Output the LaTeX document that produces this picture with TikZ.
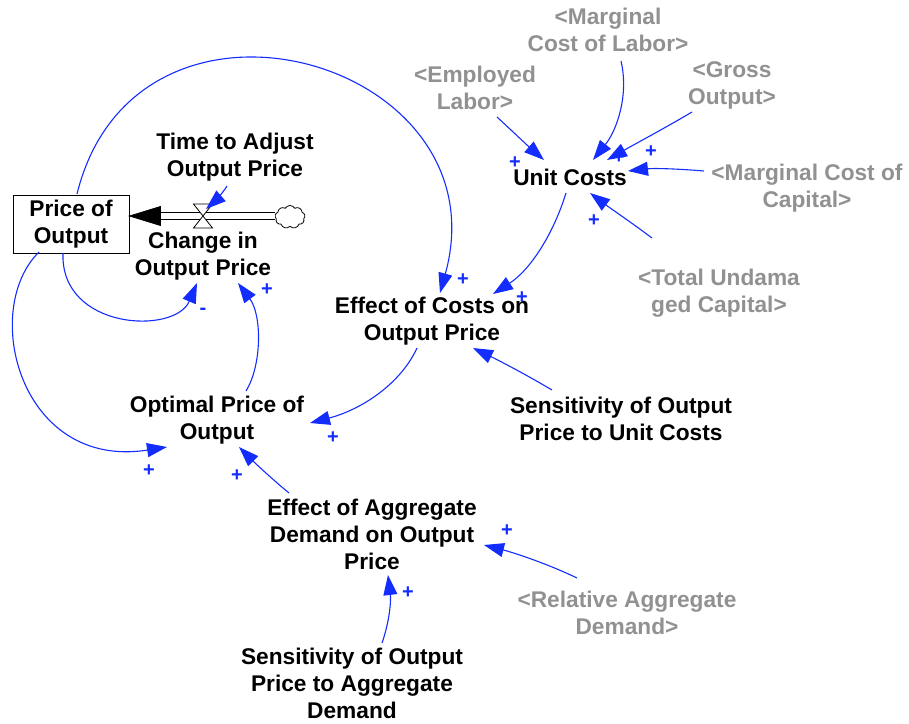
\documentclass[tikz,border=0pt]{standalone}
\usepackage{fontspec}
\setmainfont{Liberation Sans}
\usetikzlibrary{arrows.meta,calc,shapes.symbols}
\definecolor{lnk}{RGB}{20,45,255}
\definecolor{shd}{RGB}{145,145,145}
\begin{document}
\begin{tikzpicture}[x=1pt,y=-1pt,
  var/.style={align=center,inner sep=0pt,font=\fontsize{22.7}{27}\selectfont\bfseries},
  shadow/.style={var,text=shd},
  lvl/.style={var,draw,line width=1pt,minimum width=116pt,minimum height=58pt},
  link/.style={draw=lnk,line width=1.1pt,-{Triangle[length=20pt,width=14pt]},fill=none},
  pol/.style={text=lnk,inner sep=0pt,font=\fontsize{20}{20}\selectfont\bfseries}]
\useasboundingbox (0,0) rectangle (909,723);
% nodes
\node[lvl] (pout) at (71,224) {Price of\\Output};
\node[var] (tc) at (235,157) {Time to Adjust\\Output Price};
\node[var] (chg) at (203,256) {Change in\\Output Price};
\node[var] (eco) at (432,321) {Effect of Costs on\\Output Price};
\node[var] (opt) at (217,420) {Optimal Price of\\Output};
\node[var] (sua) at (621,419) {Sensitivity of Output\\Price to Unit Costs};
\node[var] (eag) at (372,534) {Effect of Aggregate\\Demand on Output\\Price};
\node[var] (sag) at (352,683) {Sensitivity of Output\\Price to Aggregate\\Demand};
\node[var] (uc) at (570,177) {Unit Costs};
\node[shadow] (mcl) at (608,30) {<Marginal\\Cost of Labor>};
\node[shadow] (emp) at (475,88) {<Employed\\Labor>};
\node[shadow] (gro) at (732,85) {<Gross\\Output>};
\node[shadow] (mcc) at (807,188) {<Marginal Cost of\\Capital>};
\node[shadow] (tuc) at (719,293) {<Total Undama\\ged Capital>};
\node[shadow] (rad) at (627,613) {<Relative Aggregate\\Demand>};
% flow
\coordinate (valve) at (203,216);
\node[cloud,draw,cloud puffs=9,cloud puff arc=120,aspect=1.3,minimum width=30pt,minimum height=23pt,inner sep=0pt,line width=0.8pt] (cloud) at (290,217) {};
\coordinate (tip) at ($(pout.east)+(0,-8)$);
\coordinate (hb) at ($(tip)+(31,0)$);
\draw[line width=1pt,double=white,double distance=5.5pt] (hb) -- (tip -| cloud.west);
\filldraw[line width=0.8pt] (tip) -- ($(hb)+(0,-9.5)$) -- ($(hb)+(0,9.5)$) -- cycle;
\filldraw[fill=white,line width=0.8pt] ($(valve)+(-9.5,-12)$) -- ++(19,0) -- ($(valve)+(-9.5,12)$) -- ++(19,0) -- cycle;
% links
\draw[link] ($(pout)+(6,-30)$) .. controls (136,-45) and (505,59) .. ($(eco)+(8,-28)$);
\draw[link] ($(pout)+(-8,29)$) .. controls (60,330) and (175,335) .. ($(chg)+(-6,27)$);
\draw[link] ($(pout)+(-32,28)$) .. controls (-20,310) and (20,470) .. ($(opt)+(-50,27)$);
\draw[link] ($(tc)+(-8,29)$) .. controls (222,194) and (214,202) .. ($(valve)+(3,-7)$);
\draw[link] ($(opt)+(29,-29)$) .. controls (262,365) and (262,315) .. ($(chg)+(35,27)$);
\draw[link] ($(uc)+(-4,16)$) .. controls (553,235) and (530,270) .. ($(eco)+(61,-27)$);
\draw[link] ($(eco)+(-15,27)$) .. controls (400,385) and (360,410) .. ($(opt)+(93,3)$);
\draw[link] ($(sua)+(-69,-29)$) .. controls (525,374) and (498,360) .. ($(eco)+(41,27)$);
\draw[link] ($(eag)+(-83,-41)$) .. controls (272,479) and (255,463) .. ($(opt)+(22,27)$);
\draw[link] ($(rad)+(-50,-35)$) .. controls (548,564) and (515,553) .. ($(eag)+(112,11)$);
\draw[link] ($(sag)+(30,-40)$) .. controls (390,620) and (391,600) .. ($(eag)+(16,41)$);
\draw[link] ($(emp)+(22,29)$) .. controls (510,129) and (528,146) .. ($(uc)+(-26,-17)$);
\draw[link] ($(mcl)+(13,31)$) .. controls (629,95) and (617,130) .. ($(uc)+(23,-17)$);
\draw[link] ($(gro)+(-40,27)$) .. controls (665,128) and (635,144) .. ($(uc)+(37,-17)$);
\draw[link] ($(mcc)+(-103,-17)$) .. controls (680,169) and (655,168) .. ($(uc)+(58,-6)$);
\draw[link] ($(tuc)+(-67,-55)$) .. controls (632,223) and (610,208) .. ($(uc)+(20,16)$);
% polarities
\node[pol] (s1) at (463,280) {+};
\node[pol] (s2) at (522,298) {+};
\node[pol] (s3) at (333,438) {+};
\node[pol] (s4) at (267,290) {+};
\node[pol] (s5) at (203,311) {-};
\node[pol] (s6) at (149,471) {+};
\node[pol] (s7) at (237,476) {+};
\node[pol] (s8) at (408,593) {+};
\node[pol] (s9) at (507,531) {+};
\node[pol] (s10) at (515,163) {+};
\node[pol] (s11) at (619,158) {+};
\node[pol] (s12) at (651,152) {+};
\node[pol] (s13) at (594,221) {+};
\end{tikzpicture}
\end{document}
